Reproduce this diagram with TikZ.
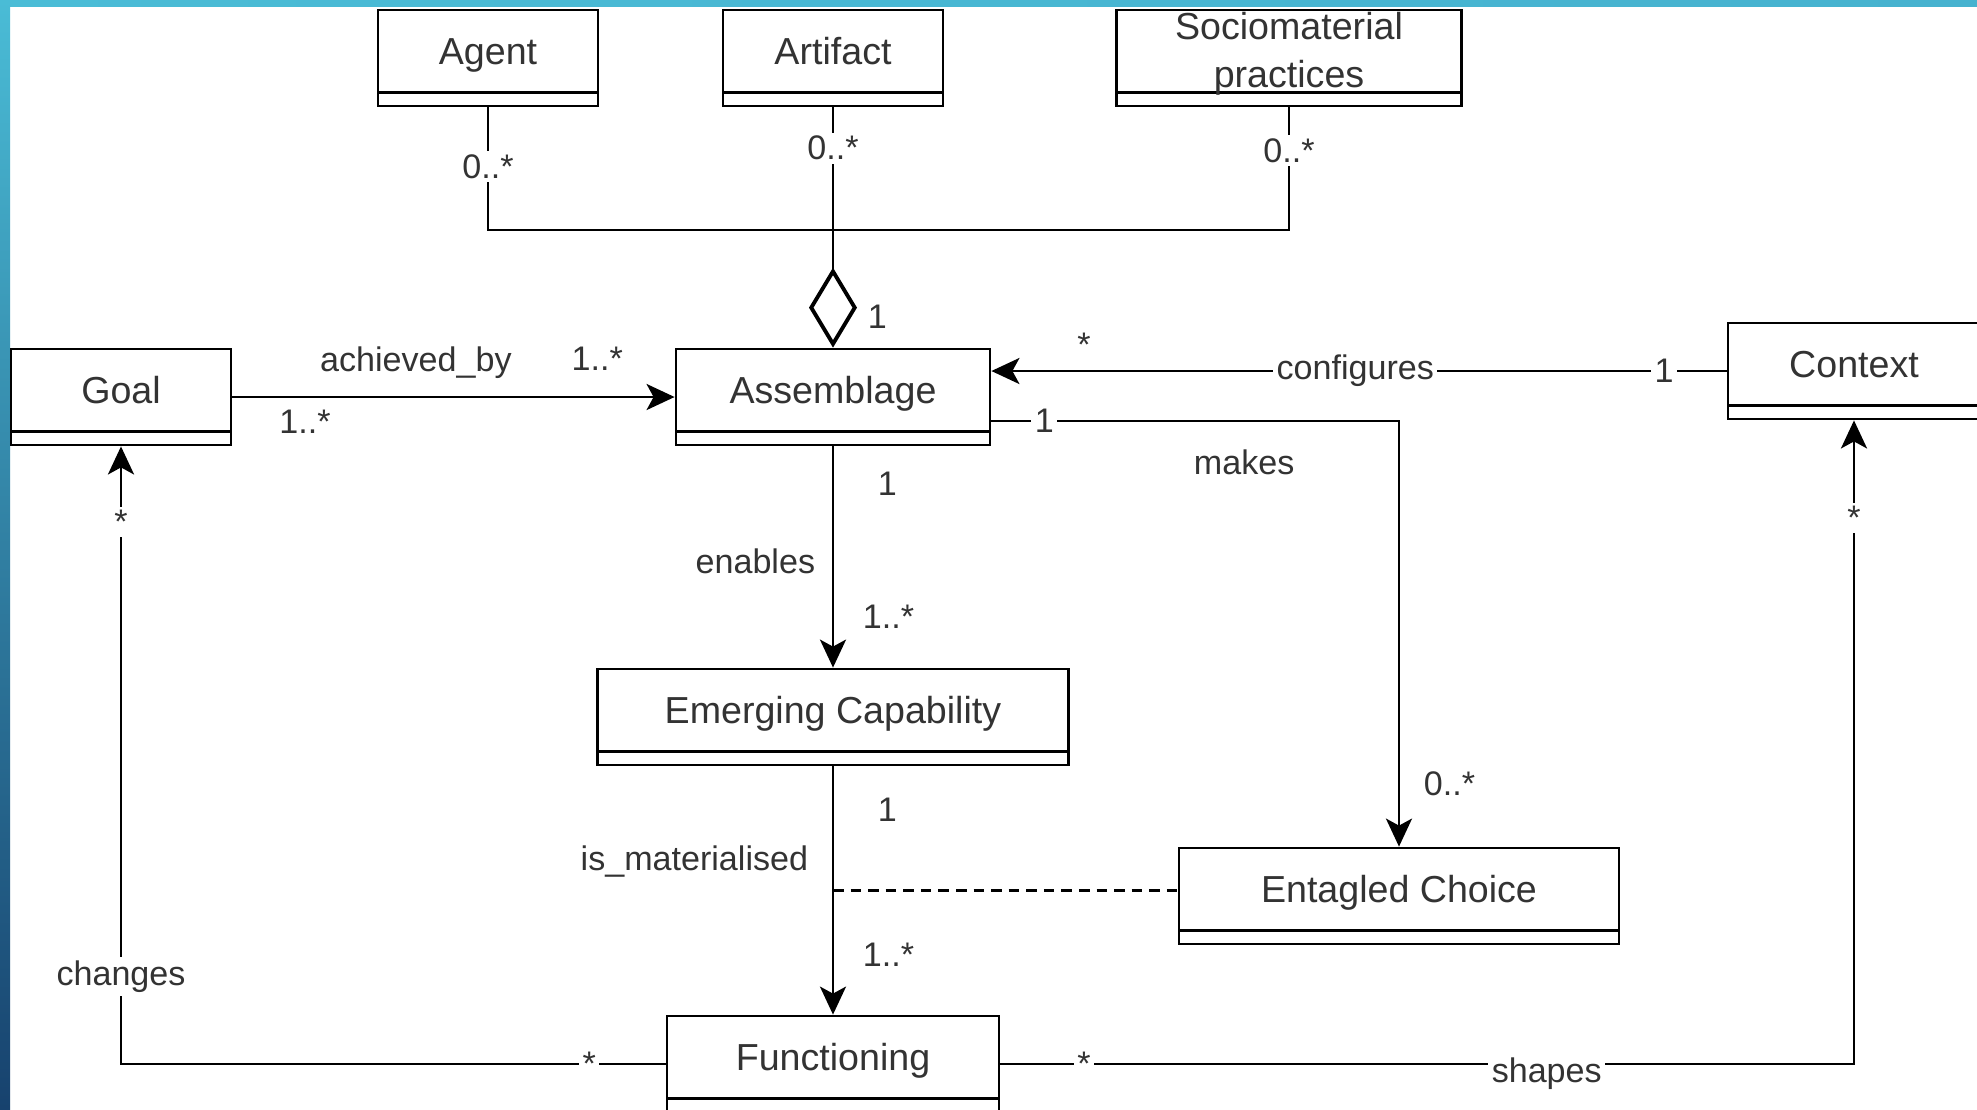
\documentclass[tikz,border=0pt]{standalone}
\usepackage{fontspec}
\setmainfont{Liberation Sans}
\usetikzlibrary{arrows.meta}

\definecolor{barlight}{HTML}{4ABCD6}
\definecolor{barmid}{HTML}{2C95B7}
\definecolor{bardark}{HTML}{17426E}
\definecolor{barright}{HTML}{46B2CF}

\begin{document}
\begin{tikzpicture}[x=0.1mm, y=-0.1mm,
  cls/.style={draw, thick, text=black!80, font=\fontsize{10.7}{13.6}\selectfont,
    minimum height=9.6mm, text height=3mm, text depth=1.7mm, inner sep=0pt,
    path picture={\draw[thick] ([yshift=1.35mm]path picture bounding box.south west)
      -- ([yshift=1.35mm]path picture bounding box.south east);}},
  lbl/.style={text=black!80, font=\fontsize{9.7}{11}\selectfont, inner sep=1pt},
  onl/.style={lbl, fill=white},
  assoc/.style={thick, -{Stealth[length=2.8mm, width=2.6mm, inset=0.7mm]}}]

  \useasboundingbox (0,0) rectangle (1977,1109);
  \fill[white] (0,0) rectangle (1977,1109);
  \shade[left color=barlight, right color=barright] (0,0) rectangle (1977,6);
  \shade[top color=barlight, middle color=barmid, bottom color=bardark] (0,0) rectangle (10,1109);

  % classes
  \node[cls, minimum width=22mm] (agent) at (488,58) {Agent};
  \node[cls, minimum width=22mm] (artifact) at (833,58) {Artifact};
  \node[cls, minimum width=34.5mm, align=center, text height=7.6mm, text depth=1.8mm] (socio) at (1289,58) {Sociomaterial\\practices};
  \node[cls, minimum width=22mm] (goal) at (121,397) {Goal};
  \node[cls, minimum width=31.4mm] (asm) at (833,397) {Assemblage};
  \node[cls, minimum width=25.2mm] (ctx) at (1854,371) {Context};
  \node[cls, minimum width=47.1mm] (emc) at (833,717) {Emerging Capability};
  \node[cls, minimum width=44mm] (ent) at (1399,896) {Entagled Choice};
  \node[cls, minimum width=33.2mm] (fun) at (833,1064) {Functioning};

  % aggregation
  \coordinate (jn) at (833,230);
  \draw[thick] (agent) -- node[onl, pos=.48]{0..*} (agent |- jn) -- (socio |- jn)
    -- node[onl, pos=.65]{0..*} (socio);
  \draw[thick, -{Diamond[open, length=8mm, width=4.8mm, line width=1.1pt]}] (artifact)
    -- node[onl, pos=.17]{0..*} node[lbl, pos=.87, right=3mm]{1} (asm);

  % associations
  \draw[assoc] (goal) -- node[lbl, pos=.415, above=1.4mm]{achieved\_by}
    node[lbl, pos=.825, above=2.2mm]{1..*} node[lbl, pos=.164, below=.8mm]{1..*} (asm);
  \draw[assoc] (ctx) -- node[onl, pos=.505]{configures} node[onl, pos=.085]{1}
    node[lbl, pos=.874, above=1mm]{*} (ctx -| asm.east);
  \draw[assoc] ([yshift=-2.4mm]asm.east) -| node[onl, pos=.065]{1}
    node[lbl, pos=.31, below=2.4mm]{makes} node[lbl, pos=.926, right=2mm]{0..*} (ent);
  \draw[assoc] (asm) -- node[lbl, pos=.17, right=4mm]{1} node[lbl, pos=.52, left=1.3mm]{enables}
    node[lbl, pos=.77, right=2.5mm]{1..*} (emc);
  \draw[assoc] (emc) -- coordinate[midway] (mid) node[lbl, pos=.175, right=4mm]{1}
    node[lbl, pos=.385, left=2mm]{is\_materialised} node[lbl, pos=.76, right=2.5mm]{1..*} (fun);
  \draw[thick, dash pattern=on 3pt off 2pt] (mid) -- (mid -| ent.west);
  \draw[assoc] (fun) -| node[onl, pos=.07]{*} node[onl, pos=.571]{changes}
    node[onl, pos=.939]{*} (goal);
  \draw[assoc] (fun) -| node[onl, pos=.049]{*} node[onl, pos=.32, yshift=-1mm]{shapes}
    node[onl, pos=.924]{*} (ctx);
\end{tikzpicture}
\end{document}
